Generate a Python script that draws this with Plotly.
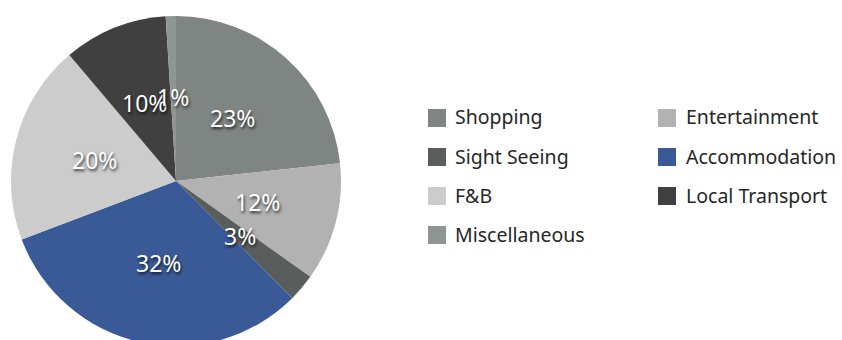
import numpy as np
import plotly.graph_objects as go

categories = ["Shopping", "Entertainment", "Sight Seeing", "Accommodation",
              "F&B", "Local Transport", "Miscellaneous"]
values = [23.3, 11.6, 2.7, 31.7, 19.6, 10.2, 1.0]
colors = ["#7f8582", "#b2b2b2", "#595e5c", "#395a97", "#cccccc", "#404040", "#8f9592"]

W, H = 842, 346
MT = 16
PH = H - MT

def px(x):
    return x / W

def py(y):
    return 1 - (y - MT) / PH

CX, CY, R = 176, 181, 165
dom_x = [px(CX - R), px(CX + R)]
dom_y = [0, 1]

fig = go.Figure()
fig.add_trace(go.Pie(
    labels=categories, values=values, sort=False, direction="clockwise",
    rotation=0, marker=dict(colors=colors, line=dict(width=0)),
    textinfo="none", hoverinfo="label+percent", showlegend=False,
    domain=dict(x=dom_x, y=dom_y),
))

fig.update_layout(
    width=W, height=H,
    margin=dict(l=0, r=0, t=MT, b=0),
    paper_bgcolor="white", plot_bgcolor="white",
)

# percentage labels placed along each slice's mid-angle (from the data)
vals = np.array(values)
frac = vals / vals.sum()
mid = (np.cumsum(frac) - frac / 2) * 2 * np.pi
for f, a in zip(frac, mid):
    lx = CX + 0.51 * R * np.sin(a)
    ly = CY - 0.51 * R * np.cos(a)
    fig.add_annotation(xref="paper", yref="paper", x=px(lx), y=py(ly),
                       text=f"{round(f * 100):.0f}%", showarrow=False,
                       xanchor="center", yanchor="middle",
                       font=dict(family="Noto Sans", size=23, color="white",
                                 shadow="1px 2px 3px rgba(0,0,0,0.75)"))

# legend (two columns, row-major like the original)
col_sw = [428, 658]
col_tx = [453, 684]
row_y = [118, 157, 196, 235]
sw = 18
for i, (cat, col) in enumerate(zip(categories, colors)):
    r, c = divmod(i, 2)
    yc = row_y[r]
    fig.add_shape(type="rect", xref="paper", yref="paper",
                  x0=px(col_sw[c]), x1=px(col_sw[c] + sw),
                  y0=py(yc + sw / 2), y1=py(yc - sw / 2),
                  fillcolor=col, line=dict(width=0))
    fig.add_annotation(xref="paper", yref="paper", x=px(col_tx[c]), y=py(yc - 1),
                       text=cat, showarrow=False, xanchor="left", yanchor="middle",
                       font=dict(family="Noto Sans", size=19.5, color="#262626"))

fig.write_html("out.html", post_script="document.body.style.overflow='hidden';document.body.style.margin='0';")
